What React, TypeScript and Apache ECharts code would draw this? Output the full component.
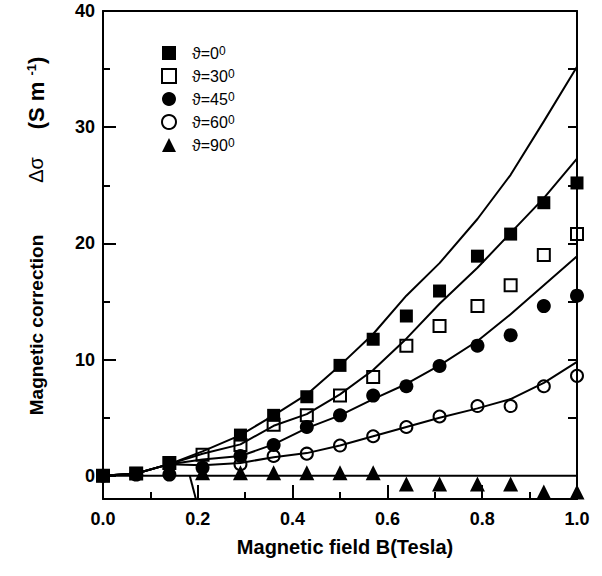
import React, { useEffect, useRef } from "react";
import * as echarts from "echarts";

// Magnetic field values (Tesla)
const B = [0, 0.07, 0.14, 0.21, 0.29, 0.36, 0.43, 0.5, 0.57, 0.64, 0.71, 0.79, 0.86, 0.93, 1.0];

// Measured magnetic correction (S m^-1); null = not visible
const theta0 = [0, 0.2, 1.1, null, 3.5, 5.2, 6.8, 9.5, 11.75, 13.75, 15.9, 18.9, 20.8, 23.5, 25.2];
const theta30 = [0, 0.2, 1.1, 1.8, 2.65, 4.4, 5.2, 6.9, 8.5, 11.2, 12.9, 14.6, 16.4, 19.0, 20.8];
const theta45 = [0, 0.1, 0.1, 0.7, 1.7, 2.65, 4.2, 5.2, 6.9, 7.7, 9.45, 11.2, 12.1, 14.6, 15.5];
const theta60 = [null, null, null, null, 1.0, 1.7, 1.9, 2.6, 3.4, 4.2, 5.1, 6.0, 6.0, 7.7, 8.6];
const theta90 = [null, null, null, 0.25, 0.25, 0.25, 0.25, 0.25, 0.25, -0.7, -0.7, -0.7, -0.7, -1.4, -1.4];

// Fitted curves
const fitA = [0, 0.2, 1.0, 2.1, 3.5, 5.2, 7.0, 9.5, 12.2, 15.5, 18.3, 22.1, 25.9, 30.5, 35.2];
const fitB = [0, 0.2, 1.0, 1.9, 2.7, 4.3, 5.3, 7.0, 9.1, 11.8, 14.8, 17.9, 20.9, 23.9, 27.3];
const fitC = [0, 0.2, 1.0, 1.4, 1.7, 2.7, 4.1, 5.2, 6.6, 7.9, 9.5, 11.6, 13.9, 16.4, 18.9];
const fitD = [0, 0.2, 1.0, 0.9, 1.1, 1.6, 1.95, 2.6, 3.4, 4.2, 5.0, 5.8, 6.6, 8.0, 9.8];
const fitZeroX = [0, 1];
const fitZeroY = [0, 0];
const strayX = [0.183, 0.196];
const strayY = [0, -2];

const legendNames = ["ϑ=0", "ϑ=30", "ϑ=45", "ϑ=60", "ϑ=90"];
const yLabelValues = [0, 10, 20, 30, 40];
const yMinorValues = [5, 15, 25, 35];
const yRightValues = [5, 10, 15, 20, 25, 30, 35];

const FONT = "'Liberation Sans', Arial, Helvetica, sans-serif";

function pairs(xs: number[], ys: (number | null)[]) {
  return xs.map((x, i) => [x, ys[i] === null ? "-" : ys[i]]);
}

export default function App() {
  const ref = useRef<HTMLDivElement>(null);
  useEffect(() => {
    if (!ref.current) return;
    const chart = echarts.init(ref.current, null, { renderer: "svg" });
    const black = "#000";
    const axisLine = { show: true, onZero: false, lineStyle: { color: black, width: 2 } };
    const lineSeries = (ys: number[], xs: number[] = B) => ({
      type: "line",
      data: pairs(xs, ys),
      showSymbol: false,
      symbol: "none",
      lineStyle: { color: black, width: 2 },
      z: 2,
      silent: true,
    });
    const scatter = (name: string, ys: (number | null)[], symbol: string, size: number, filled: boolean, z: number) => ({
      type: "scatter",
      name,
      data: pairs(B, ys),
      symbol,
      symbolSize: size,
      itemStyle: filled
        ? { color: black, opacity: 1 }
        : { color: "rgba(255,255,255,0)", borderColor: black, borderWidth: 2, opacity: 1 },
      z,
    });
    const vText = (text: string, x: number, y: number, rich: any) => ({
      type: "text",
      x,
      y,
      rotation: Math.PI / 2,
      style: { text, align: "center", verticalAlign: "middle", rich },
    });
    const option: any = {
      animation: false,
      grid: { left: 103, right: 25, top: 11, bottom: 77 },
      legend: {
        orient: "vertical",
        left: 156,
        top: 40,
        itemWidth: 14,
        itemHeight: 14,
        itemGap: 7,
        data: legendNames,
        formatter: (n: string) => `{a|${n}}{s|0}`,
        textStyle: {
          padding: [0, 0, 0, 11],
          rich: {
            a: { fontSize: 16, fontFamily: FONT, color: black },
            s: { fontSize: 12, fontFamily: FONT, color: black, verticalAlign: "top" },
          },
        },
      },
      xAxis: [
        {
          type: "value",
          min: 0,
          max: 1,
          interval: 0.2,
          position: "bottom",
          axisLine,
          axisTick: { show: true, inside: true, length: 14, lineStyle: { color: black, width: 2 } },
          minorTick: { show: true, splitNumber: 2, length: 7, lineStyle: { color: black, width: 2 } },
          splitLine: { show: false },
          axisLabel: {
            formatter: (v: number) => v.toFixed(1),
            fontFamily: FONT,
            fontWeight: "bold",
            fontSize: 18,
            color: black,
            margin: 11,
          },
          name: "Magnetic field B(Tesla)",
          nameLocation: "middle",
          nameGap: 38,
          nameTextStyle: { fontFamily: FONT, fontWeight: "bold", fontSize: 20, color: black, padding: [0, 0, 0, 10] },
        },
        {
          type: "value",
          min: 0,
          max: 1,
          position: "top",
          axisLine,
          axisTick: { show: false },
          axisLabel: { show: false },
          splitLine: { show: false },
        },
      ],
      yAxis: [
        {
          type: "value",
          min: -2,
          max: 40,
          position: "left",
          axisLine,
          axisTick: { show: true, inside: true, length: 13, customValues: yLabelValues, lineStyle: { color: black, width: 2 } },
          axisLabel: {
            customValues: yLabelValues,
            fontFamily: FONT,
            fontWeight: "bold",
            fontSize: 18,
            color: black,
            margin: 8,
          },
          splitLine: { show: false },
        },
        {
          type: "value",
          min: -2,
          max: 40,
          position: "left",
          axisLine: { show: false },
          axisTick: { show: true, inside: true, length: 7, customValues: yMinorValues, lineStyle: { color: black, width: 2 } },
          axisLabel: { show: false },
          splitLine: { show: false },
        },
        {
          type: "value",
          min: -2,
          max: 40,
          position: "right",
          axisLine,
          axisTick: { show: true, inside: true, length: 9, customValues: yRightValues, lineStyle: { color: black, width: 2 } },
          axisLabel: { show: false },
          splitLine: { show: false },
        },
      ],
      graphic: [
        vText("{b|Magnetic correction}", 36, 325, {
          b: { fontFamily: FONT, fontWeight: "bold", fontSize: 19, fill: black },
        }),
        vText("{r|Δσ}", 36, 170, {
          r: { fontFamily: FONT, fontSize: 20, fill: black },
        }),
        vText("{b|(S m }{s|-1}{b|)}", 36, 93, {
          b: { fontFamily: FONT, fontWeight: "bold", fontSize: 22, fill: black },
          s: { fontFamily: FONT, fontWeight: "bold", fontSize: 13, fill: black, verticalAlign: "top" },
        }),
      ],
      series: [
        lineSeries(fitA),
        lineSeries(fitB),
        lineSeries(fitC),
        lineSeries(fitD),
        lineSeries(fitZeroY, fitZeroX),
        lineSeries(strayY, strayX),
        scatter(legendNames[4], theta90, "triangle", 15, true, 3),
        scatter(legendNames[3], theta60, "circle", 12, false, 4),
        scatter(legendNames[2], theta45, "circle", 14, true, 5),
        scatter(legendNames[1], theta30, "rect", 12, false, 6),
        scatter(legendNames[0], theta0, "rect", 13, true, 7),
      ],
    };
    chart.setOption(option);
    return () => chart.dispose();
  }, []);
  return <div ref={ref} style={{ position: "absolute", left: 0, top: 0, width: 602, height: 576 }} />;
}
